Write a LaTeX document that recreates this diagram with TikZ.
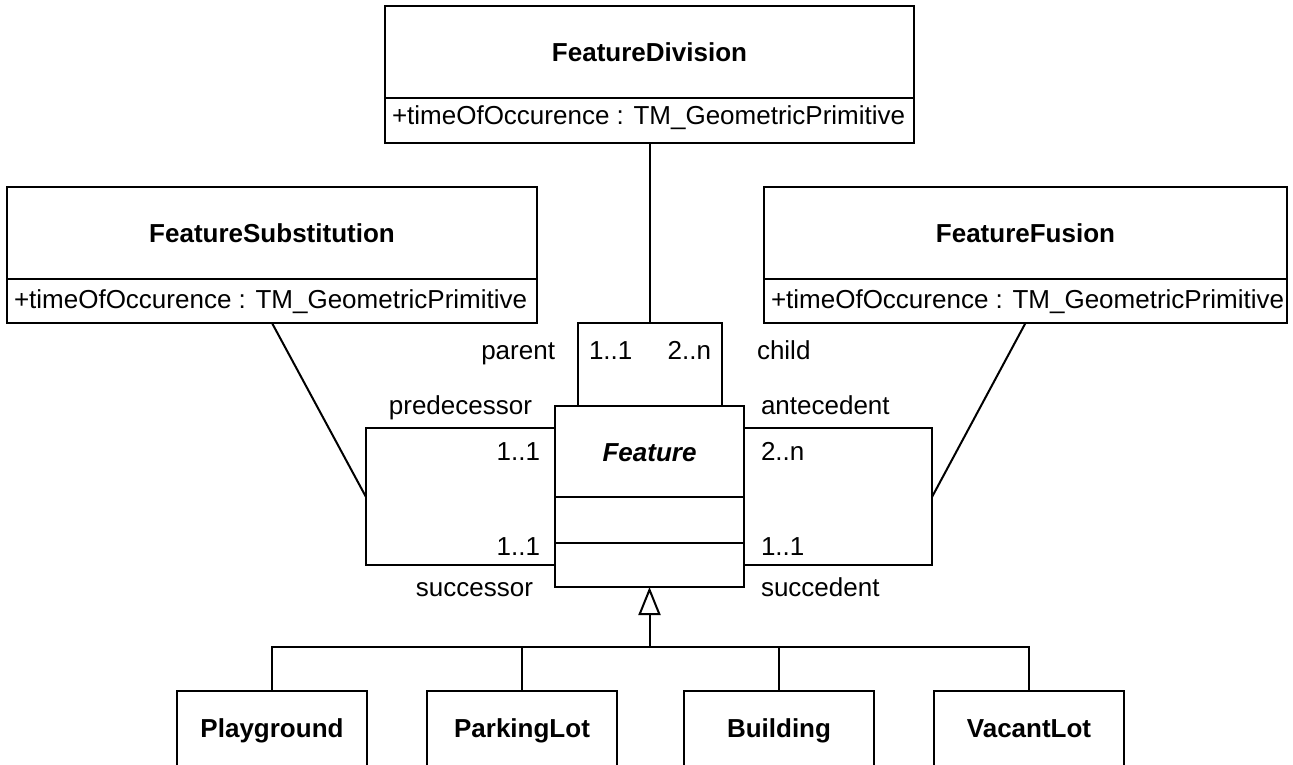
\documentclass[tikz,border=0pt]{standalone}
\usepackage{fontspec}
\setmainfont{Liberation Sans}
\usetikzlibrary{calc,arrows.meta}
\begin{document}
\begin{tikzpicture}[x=1pt,y=-1pt,line width=2pt,
  every node/.style={font=\fontsize{26}{31}\selectfont, inner sep=0pt},
  box/.style={draw, fill=white, outer sep=0pt},
  cname/.style={font=\fontsize{26}{31}\selectfont\bfseries, text height=19pt, text depth=0pt},
  attrtxt/.style={anchor=base west},
  lblE/.style={anchor=base east},
  lblW/.style={anchor=base west},
  gentip/.style={-{Triangle[open,length=28pt,width=22pt]}}
]
\useasboundingbox (0,0) rectangle (1293,765);
\clip (0,0) rectangle (1293,765);

% FeatureDivision
\node[box, minimum width=529pt, minimum height=92pt] (divN) at (649.5,52) {};
\node[cname] (divNt) at (divN.center) {FeatureDivision};
\node[box, minimum width=529pt, minimum height=45pt, anchor=north] (divA) at (divN.south) {};
\node[attrtxt] (divAt) at ($(divA.west)+(6,4.5)$) {+timeOfOccurence : TM\_GeometricPrimitive};

% FeatureSubstitution
\node[box, minimum width=530pt, minimum height=92pt] (subN) at (272,233) {};
\node[cname] (subNt) at (subN.center) {FeatureSubstitution};
\node[box, minimum width=530pt, minimum height=44pt, anchor=north] (subA) at (subN.south) {};
\node[attrtxt] (subAt) at ($(subA.west)+(6,7)$) {+timeOfOccurence : TM\_GeometricPrimitive};

% FeatureFusion
\node[box, minimum width=523pt, minimum height=92pt] (fusN) at (1025.5,233) {};
\node[cname] (fusNt) at (fusN.center) {FeatureFusion};
\node[box, minimum width=523pt, minimum height=44pt, anchor=north] (fusA) at (fusN.south) {};
\node[attrtxt] (fusAt) at ($(fusA.west)+(6,7)$) {+timeOfOccurence : TM\_GeometricPrimitive};

% Feature
\node[box, minimum width=189pt, minimum height=91pt] (fN) at (649.5,451.5) {};
\node[cname, font=\fontsize{26}{31}\selectfont\bfseries\itshape] (fNt) at (fN.center) {Feature};
\node[box, minimum width=189pt, minimum height=46pt, anchor=north] (fA) at (fN.south) {};
\node[box, minimum width=189pt, minimum height=44pt, anchor=north] (fO) at (fA.south) {};

% association points
\coordinate (bt) at (649.5,323);
\coordinate (lj) at (366,497);
\coordinate (rj) at (932,497);

\draw ($(fN.north west)+(23,0)$) |- (bt) -| ($(fN.north east)+(-22,0)$);
\draw (divA.south) -- (bt);
\draw ($(fN.north west)+(0,22)$) -| (lj) |- (fO.west);
\draw ($(fN.north east)+(0,22)$) -| (rj) |- (fO.east);
\draw (subA.south) -- (lj);
\draw (fusA.south) -- (rj);

% role and multiplicity labels
\node[lblE] (lparent) at (556,359) {parent};
\node[lblW] (mpar) at (588,359) {1..1};
\node[lblE] (mchild) at (712,359) {2..n};
\node[lblW] (lchild) at (756,359) {child};
\node[lblE] (lpred) at (533,414) {predecessor};
\node[lblE] (mpred) at (541,460) {1..1};
\node[lblE] (msucc) at (541,555) {1..1};
\node[lblE] (lsucc) at (534,596) {successor};
\node[lblW] (lante) at (760,414) {antecedent};
\node[lblW] (mante) at (760,460) {2..n};
\node[lblW] (msucd) at (760,555) {1..1};
\node[lblW] (lsucd) at (760,596) {succedent};

% subclasses
\node[box, minimum width=190pt, minimum height=100pt, anchor=north] (pl) at (272,691) {};
\node[cname] (plt) at (272,728) {Playground};
\node[box, minimum width=190pt, minimum height=100pt, anchor=north] (pk) at (522,691) {};
\node[cname] (pkt) at (522,728) {ParkingLot};
\node[box, minimum width=190pt, minimum height=100pt, anchor=north] (bu) at (779,691) {};
\node[cname] (but) at (779,728) {Building};
\node[box, minimum width=190pt, minimum height=100pt, anchor=north] (va) at (1029,691) {};
\node[cname] (vat) at (1029,728) {VacantLot};

% generalization
\coordinate (gj) at (649.5,647);
\draw[gentip] (gj) -- (fO.south);
\draw (pl.north) -- (pl.north |- gj) -- (va.north |- gj) -- (va.north);
\draw (pk.north) -- (pk.north |- gj);
\draw (bu.north) -- (bu.north |- gj);
\end{tikzpicture}
\end{document}
